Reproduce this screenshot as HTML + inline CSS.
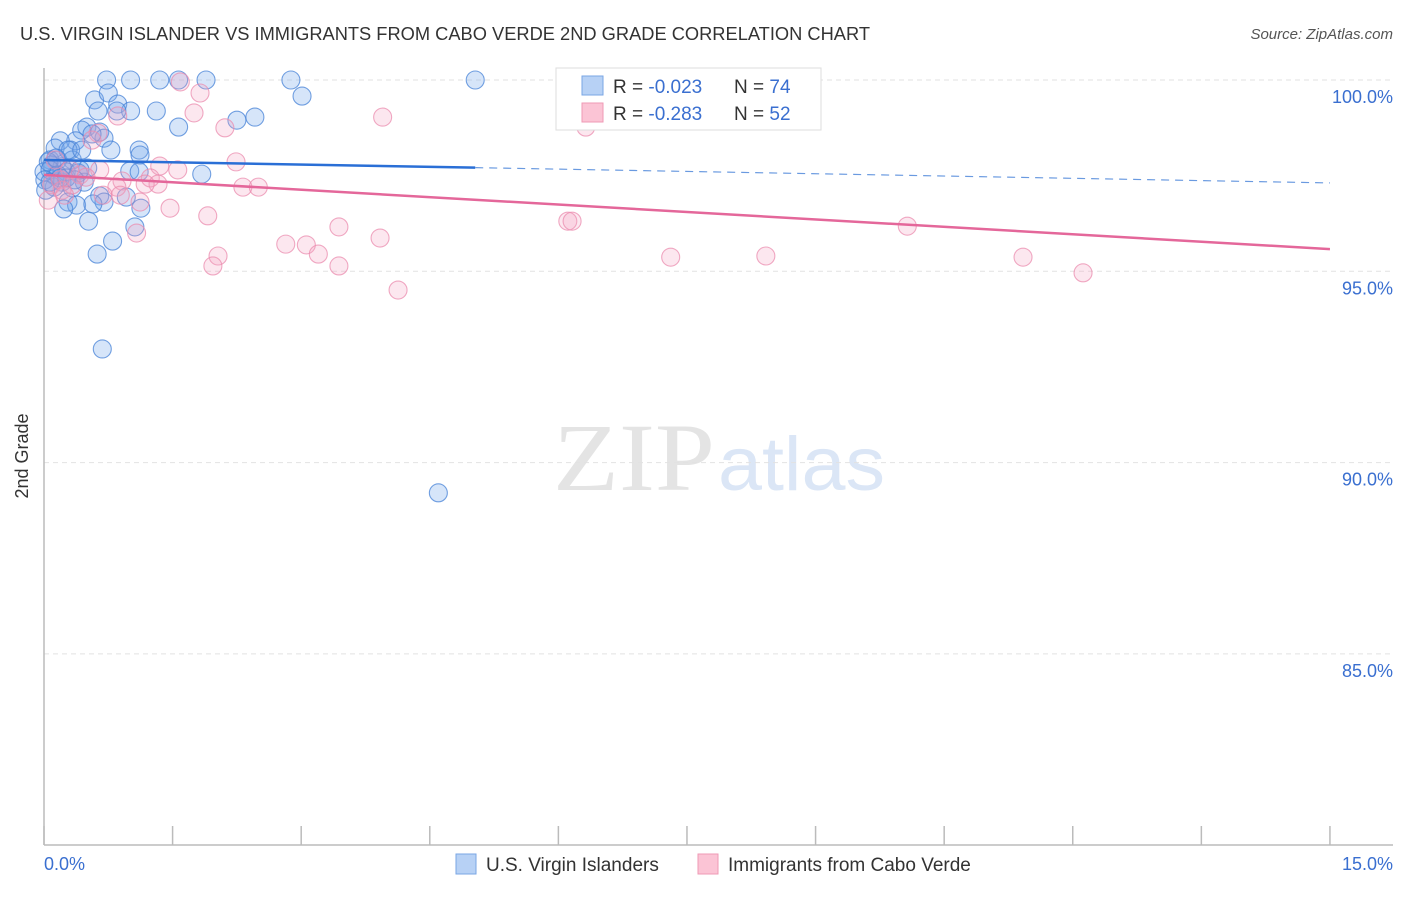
<!DOCTYPE html>
<html><head><meta charset="utf-8"><style>
body{margin:0;background:#fff;width:1406px;height:892px;overflow:hidden;font-family:"Liberation Sans",sans-serif}
</style></head><body>
<svg id="chart" width="1406" height="892" font-family="Liberation Sans, sans-serif">
<text x="20" y="40" font-size="18" fill="#333" textLength="850" lengthAdjust="spacingAndGlyphs">U.S. VIRGIN ISLANDER VS IMMIGRANTS FROM CABO VERDE 2ND GRADE CORRELATION CHART</text>
<text x="1393" y="39" font-size="15" fill="#555" font-style="italic" text-anchor="end">Source: ZipAtlas.com</text>
<g>
<text x="553" y="490" font-size="96" fill="#e4e4e4" font-family="Liberation Serif, serif" textLength="162" lengthAdjust="spacingAndGlyphs">ZIP</text>
<text x="718" y="490" font-size="76" fill="#dbe6f6" textLength="167" lengthAdjust="spacingAndGlyphs">atlas</text>
</g>
<g id="grid"></g>
<line x1="44" y1="68" x2="44" y2="845" stroke="#bbb" stroke-width="1.5"/>
<line x1="44" y1="845" x2="1393" y2="845" stroke="#bbb" stroke-width="1.5"/>
<g id="xticks"></g>
<text x="28" y="456" font-size="18" fill="#333" text-anchor="middle" transform="rotate(-90 28 456)">2nd Grade</text>
<text x="44" y="870" font-size="18" fill="#3a6fd0">0.0%</text>
<text x="1393" y="870" font-size="18" fill="#3a6fd0" text-anchor="end">15.0%</text>
<g id="pts"></g>
<g id="lines"></g>
<g>
<rect x="556" y="68" width="265" height="62" fill="#fff" stroke="#ddd"/>
<rect x="582" y="76" width="21" height="19" fill="#b7d1f5" stroke="#7aa6e4"/>
<rect x="582" y="103" width="21" height="19" fill="#fbc4d5" stroke="#ef9ab5"/>
<text x="613" y="93" font-size="19" fill="#333">R = <tspan fill="#3a6fd0">-0.023</tspan></text>
<text x="734" y="93" font-size="19" fill="#333">N = <tspan fill="#3a6fd0">74</tspan></text>
<text x="613" y="120" font-size="19" fill="#333">R = <tspan fill="#3a6fd0"> -0.283</tspan></text>
<text x="734" y="120" font-size="19" fill="#333">N = <tspan fill="#3a6fd0">52</tspan></text>
</g>
<g>
<rect x="456" y="854" width="20" height="20" fill="#b7d1f5" stroke="#7aa6e4"/>
<text x="486" y="871" font-size="19" fill="#333">U.S. Virgin Islanders</text>
<rect x="698" y="854" width="20" height="20" fill="#fbc4d5" stroke="#ef9ab5"/>
<text x="728" y="871" font-size="19" fill="#333">Immigrants from Cabo Verde</text>
</g>
</svg>
<script>
const yTicks=[100,95,90,85];
const yTickLabels=["100.0%","95.0%","90.0%","85.0%"];
const xTickVals=[0,1.5,3,4.5,6,7.5,9,10.5,12,13.5,15];
const blueX=[0.73,1.01,1.35,1.57,1.89,2.88,5.03,3.01,0.59,0.75,0.86,1.01,1.31,0.63,1.57,2.25,2.46,0.50,0.44,0.65,0.70,0.37,0.19,0.13,0.31,1.11,0.78,0.07,0.16,0.33,0.09,0.21,0.51,0.26,0.40,0.13,0.00,1.00,1.11,1.84,0.47,0.21,0.12,0.33,0.65,0.96,0.70,0.28,0.38,0.57,0.23,1.13,0.52,1.06,0.80,0.62,0.68,4.60,0.05,0.07,0.16,0.26,0.01,0.28,0.14,0.85,0.56,0.42,0.19,0.02,1.12,0.44,0.07,0.36];
const blueY=[100,100,100,100,100,100,100,99.58,99.48,99.66,99.37,99.19,99.19,99.19,98.77,98.95,99.03,98.77,98.69,98.64,98.48,98.41,98.41,98.22,98.17,98.17,98.17,97.91,97.91,97.91,97.78,97.73,97.70,97.60,97.57,97.49,97.60,97.62,97.60,97.54,97.33,97.33,97.20,97.18,96.97,96.94,96.81,96.81,96.73,96.76,96.63,96.65,96.31,96.16,95.79,95.45,92.97,89.21,97.86,97.65,97.52,97.44,97.39,98.17,97.96,99.19,98.59,97.65,97.44,97.12,98.04,98.17,97.33,97.39];
const pinkX=[1.59,1.82,1.75,3.95,2.11,6.32,0.63,0.56,0.86,2.24,1.35,0.91,1.24,1.33,1.18,2.32,2.50,0.85,0.69,1.12,1.47,1.91,3.44,6.11,6.16,10.07,1.08,3.92,2.82,3.06,2.03,3.20,1.97,3.44,7.31,8.42,11.42,12.12,4.13,0.05,0.09,0.19,0.30,0.13,0.21,0.42,0.65,0.49,0.89,0.33,0.24,1.56];
const pinkY=[99.95,99.66,99.14,99.03,98.75,98.77,98.61,98.43,99.06,97.86,97.75,97.36,97.44,97.28,97.28,97.20,97.20,97.20,96.99,96.81,96.65,96.45,96.16,96.31,96.31,96.18,96.00,95.87,95.71,95.69,95.40,95.45,95.14,95.14,95.37,95.40,95.37,94.96,94.51,96.86,97.26,97.39,97.65,97.91,97.12,97.52,97.65,97.46,96.99,97.26,96.99,97.65];
const blueTrend=[97.91,97.31];
const pinkTrend=[97.52,95.58];
const NS="http://www.w3.org/2000/svg";
const xs=v=>44+v*85.73;
const ys=v=>80+(100-v)*38.26;
function mk(tag,attrs,parent){const e=document.createElementNS(NS,tag);for(const k in attrs)e.setAttribute(k,attrs[k]);document.getElementById(parent).appendChild(e);return e;}
yTicks.forEach((t,i)=>{
 const l=mk('line',{x1:44,x2:1393,y1:ys(t),y2:ys(t),stroke:'#e2e2e2','stroke-dasharray':'5,4'},'grid');
 
 
 const tx=mk('text',{x:1393,y:ys(t)+23,'font-size':18,fill:'#3a6fd0','text-anchor':'end'},'grid');
 tx.textContent=yTickLabels[i];
 
 
});
xTickVals.forEach(v=>{
 const l=mk('line',{x1:xs(v),x2:xs(v),y1:826,y2:845,stroke:'#bbb','stroke-width':1.5},'xticks');
 
 
});
blueX.forEach((x,i)=>{
 const c=mk('circle',{cx:xs(x),cy:ys(blueY[i]),r:9,fill:'rgba(120,170,235,0.3)',stroke:'rgba(70,130,215,0.75)','stroke-width':1.1},'pts');
 
 
});
pinkX.forEach((x,i)=>{
 const c=mk('circle',{cx:xs(x),cy:ys(pinkY[i]),r:9,fill:'rgba(245,160,190,0.25)',stroke:'rgba(235,140,175,0.75)','stroke-width':1.1},'pts');
 
 
});
const bAt=v=>blueTrend[0]+(blueTrend[1]-blueTrend[0])*v/15;
let l1=mk('line',{x1:xs(0),y1:ys(bAt(0)),x2:xs(5.03),y2:ys(bAt(5.03)),stroke:'#2a6fd6','stroke-width':2.5},'lines');


let l2=mk('line',{x1:xs(5.03),y1:ys(bAt(5.03)),x2:xs(15),y2:ys(bAt(15)),stroke:'#6a9ae0','stroke-width':1.2,'stroke-dasharray':'8,6'},'lines');


let l3=mk('line',{x1:xs(0),y1:ys(pinkTrend[0]),x2:xs(15),y2:ys(pinkTrend[1]),stroke:'#e4679a','stroke-width':2.5},'lines');


</script>
</body></html>
